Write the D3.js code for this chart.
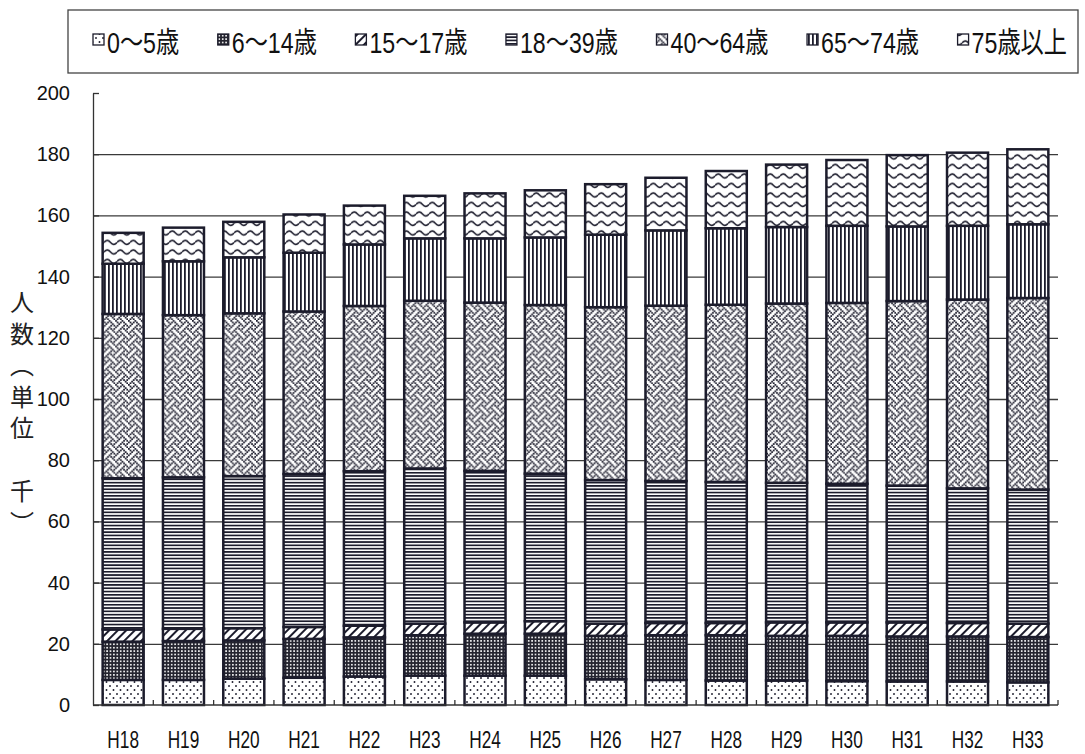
<!DOCTYPE html>
<html>
<head>
<meta charset="utf-8">
<script src="https://cdn.jsdelivr.net/npm/d3@7"></script>
<style>
	body { margin: 0; background: #fff; }
	svg { display: block; }
</style>
</head>
<body>
<svg id="chart" width="1085" height="754"></svg>
<script>

// data (thousands of people)
var years = ['H18','H19','H20','H21','H22','H23','H24','H25','H26','H27','H28','H29','H30','H31','H32','H33'];
var ageGroups = ['0～5歳','6～14歳','15～17歳','18～39歳','40～64歳','65～74歳','75歳以上'];

var age0to5   = [8.2, 8.2, 8.6, 8.9, 9.3, 9.6, 9.6, 9.6, 8.4, 8.2, 8.0, 8.0, 7.8, 7.7, 7.7, 7.4];
var age6to14  = [12.5, 12.7, 12.5, 12.7, 12.8, 13.2, 13.7, 13.7, 14.2, 14.6, 14.8, 14.6, 14.8, 14.7, 14.7, 14.8];
var age15to17 = [4.0, 4.0, 4.0, 3.9, 3.8, 3.8, 3.7, 4.1, 4.0, 4.0, 4.0, 4.4, 4.4, 4.6, 4.4, 4.4];
var age18to39 = [49.4, 49.5, 49.7, 50.0, 50.5, 50.7, 49.5, 48.2, 46.9, 46.4, 46.1, 45.6, 45.3, 44.7, 44.0, 43.8];
var age40to64 = [53.7, 53.0, 53.2, 53.1, 54.0, 54.8, 55.0, 55.1, 56.5, 57.3, 57.9, 58.6, 59.1, 60.3, 61.7, 62.6];
var age65to74 = [16.4, 17.6, 18.3, 19.2, 20.1, 20.4, 21.0, 22.1, 23.7, 24.6, 25.0, 25.0, 25.2, 24.4, 24.1, 24.1];
var age75plus = [10.1, 11.0, 11.6, 12.5, 12.7, 13.9, 14.7, 15.4, 16.5, 17.2, 18.7, 20.4, 21.5, 23.3, 23.9, 24.5];

var yTicks = [0, 20, 40, 60, 80, 100, 120, 140, 160, 180, 200];
var yTitle = '人数（単位　千）';

var series = [age0to5, age6to14, age15to17, age18to39, age40to64, age65to74, age75plus];

var ink = '#1c1c2c';
var plotLeft = 93, plotRight = 1058, plotTop = 93, plotBottom = 705;

var svg = d3.select('#chart');
var defs = svg.append('defs');

// ---- fill patterns, one per age group
var pat = function (id, w, h) {
	return defs.append('pattern')
		.attr('id', id)
		.attr('patternUnits', 'userSpaceOnUse')
		.attr('width', w)
		.attr('height', h);
};

// sparse dots
var p0 = pat('p0', 7, 8);
p0.append('rect').attr('width', 7).attr('height', 8).attr('fill', '#fff');
p0.append('circle').attr('cx', 1.5).attr('cy', 2).attr('r', 0.95).attr('fill', ink);
p0.append('circle').attr('cx', 5).attr('cy', 6).attr('r', 0.95).attr('fill', ink);

// dark grid with small white holes
var p1 = pat('p1', 3.4, 3.4);
p1.append('rect').attr('width', 3.4).attr('height', 3.4).attr('fill', '#24242f');
p1.append('rect').attr('x', 0.9).attr('y', 0.9).attr('width', 1.6).attr('height', 1.6).attr('fill', '#fff');

// diagonal hatch
var p2 = pat('p2', 6, 6).attr('patternTransform', 'rotate(45)');
p2.append('rect').attr('width', 6).attr('height', 6).attr('fill', '#fff');
p2.append('rect').attr('width', 2).attr('height', 6).attr('fill', ink);

// horizontal lines
var p3 = pat('p3', 6, 3.3);
p3.append('rect').attr('width', 6).attr('height', 3.3).attr('fill', '#fff');
p3.append('rect').attr('width', 6).attr('height', 1.7).attr('fill', ink);

// weave (8x8 bitmap)
var weave = [0x88, 0x54, 0x22, 0x45, 0x88, 0x15, 0x22, 0x51];
var s = 1.6;
var p4 = pat('p4', 8*s, 8*s);
p4.append('rect').attr('width', 8*s).attr('height', 8*s).attr('fill', '#fff');
weave.forEach(function (row, r) {
	for (var c = 0; c < 8; c++) {
		if (row & (0x80 >> c)) {
			p4.append('rect')
				.attr('x', c*s).attr('y', r*s)
				.attr('width', s*1.1).attr('height', s*1.1)
				.attr('fill', ink);
		}
	}
});

// vertical lines
var p5 = pat('p5', 4, 6);
p5.append('rect').attr('width', 4).attr('height', 6).attr('fill', '#fff');
p5.append('rect').attr('width', 1.8).attr('height', 6).attr('fill', ink);

// waves
var p6 = pat('p6', 13, 9.5);
p6.append('rect').attr('width', 13).attr('height', 9.5).attr('fill', '#fff');
p6.append('path')
	.attr('d', 'M0,5 Q3.25,1 6.5,5 T13,5')
	.attr('fill', 'none')
	.attr('stroke', ink)
	.attr('stroke-width', 1.5);

var fills = ['url(#p0)','url(#p1)','url(#p2)','url(#p3)','url(#p4)','url(#p5)','url(#p6)'];

// ---- scales
var x = d3.scaleBand()
	.domain(years)
	.range([plotLeft, plotRight])
	.paddingInner(0.32)
	.paddingOuter(0.16);

var y = d3.scaleLinear()
	.domain([0, 200])
	.range([plotBottom, plotTop]);

var rows = years.map(function (yr, i) {
	var row = { year: yr };
	ageGroups.forEach(function (g, k) { row[g] = series[k][i]; });
	return row;
});

var stacked = d3.stack().keys(ageGroups)(rows);

// ---- gridlines
svg.append('g')
	.attr('transform', 'translate(' + plotLeft + ',0)')
	.call(d3.axisLeft(y).tickValues(yTicks.slice(1, -1)).tickSize(-(plotRight - plotLeft)).tickFormat(''))
	.call(function (g) {
		g.select('.domain').remove();
		g.selectAll('line').attr('stroke', '#3a3a3a').attr('stroke-width', 1.3);
	});

// ---- y axis
svg.append('g')
	.attr('transform', 'translate(' + plotLeft + ',0)')
	.call(d3.axisLeft(y).tickValues(yTicks).tickSizeInner(-6).tickSizeOuter(0).tickPadding(23))
	.call(function (g) {
		g.select('.domain').attr('stroke', '#333').attr('stroke-width', 1.3);
		g.selectAll('line').attr('stroke', '#333').attr('stroke-width', 1.3);
		g.selectAll('text')
			.attr('font-family', '"Liberation Sans", Arial, sans-serif')
			.attr('font-size', 20)
			.attr('fill', '#111');
	});

// ---- bars
var groups = svg.append('g').selectAll('g')
	.data(stacked)
	.enter()
	.append('g')
	.attr('fill', function (d, i) { return fills[i]; });

groups.selectAll('rect')
	.data(function (d) { return d; })
	.enter()
	.append('rect')
	.attr('x', function (d) { return x(d.data.year); })
	.attr('y', function (d) { return y(d[1]); })
	.attr('width', x.bandwidth())
	.attr('height', function (d) { return y(d[0]) - y(d[1]); })
	.attr('stroke', ink)
	.attr('stroke-width', 2.5);

// ---- x axis
var gap = (x.step() - x.bandwidth()) / 2;
var edges = years.map(function (d) { return x(d) - gap; });
edges.push(plotRight);

var xAxis = svg.append('g');
xAxis.append('line')
	.attr('x1', plotLeft).attr('x2', plotRight)
	.attr('y1', plotBottom).attr('y2', plotBottom)
	.attr('stroke', '#333').attr('stroke-width', 1.3);

xAxis.selectAll('.tick')
	.data(edges.slice(1))
	.enter()
	.append('line')
	.attr('x1', function (d) { return d; })
	.attr('x2', function (d) { return d; })
	.attr('y1', plotBottom)
	.attr('y2', plotBottom - 5)
	.attr('stroke', '#333')
	.attr('stroke-width', 1.3);

xAxis.selectAll('text')
	.data(years)
	.enter()
	.append('text')
	.attr('transform', function (d) {
		return 'translate(' + (x(d) + x.bandwidth()/2) + ',748) scale(0.75,1)';
	})
	.attr('text-anchor', 'middle')
	.attr('font-family', '"Liberation Sans", Arial, sans-serif')
	.attr('font-size', 23)
	.attr('fill', '#111')
	.text(function (d) { return d; });

// ---- y axis title, written top to bottom
svg.append('text')
	.attr('x', 22)
	.attr('y', 290)
	.style('writing-mode', 'vertical-rl')
	.style('letter-spacing', '7.5px')
	.attr('font-family', '"Noto Sans CJK JP", sans-serif')
	.attr('font-size', 24)
	.attr('fill', '#222')
	.text(yTitle);

// ---- legend
svg.append('rect')
	.attr('x', 68).attr('y', 10)
	.attr('width', 1010).attr('height', 63)
	.attr('fill', 'none')
	.attr('stroke', '#444')
	.attr('stroke-width', 1.3);

var legend = svg.append('g');
var items = legend.selectAll('g')
	.data(ageGroups)
	.enter()
	.append('g');

items.append('rect')
	.attr('width', 11).attr('height', 11)
	.attr('y', 34)
	.attr('fill', function (d, i) { return fills[i]; })
	.attr('stroke', ink)
	.attr('stroke-width', 1.3);

var sx = 0.8;
var labels = items.append('text')
	.attr('font-family', '"Liberation Sans", "Noto Sans CJK JP", sans-serif')
	.attr('font-size', 29)
	.attr('fill', '#111')
	.text(function (d) { return d; });

var widths = [];
labels.each(function () { widths.push(this.getComputedTextLength() * sx); });
var startX = 93, endX = 1067, markW = 14;
var spare = (endX - startX) - d3.sum(widths) - markW * ageGroups.length;
var between = spare / (ageGroups.length - 1);
var cursor = startX;
items.each(function (d, i) {
	var it = d3.select(this);
	it.select('rect').attr('x', cursor);
	it.select('text').attr('transform', 'translate(' + (cursor + markW) + ',53) scale(' + sx + ',1)');
	cursor += markW + widths[i] + between;
});

</script>
</body>
</html>
